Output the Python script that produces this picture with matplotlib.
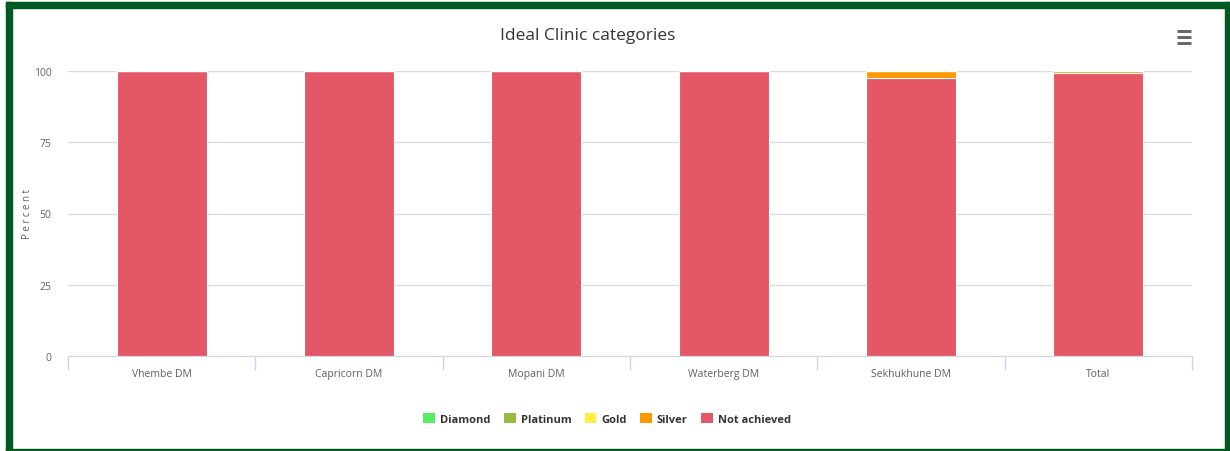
import matplotlib
matplotlib.use("Agg")
import matplotlib.pyplot as plt
from matplotlib.patches import Rectangle
from matplotlib.lines import Line2D
import numpy as np

categories = ["Vhembe DM", "Capricorn DM", "Mopani DM", "Waterberg DM", "Sekhukhune DM", "Total"]
not_achieved = [100, 100, 100, 100, 97.5, 99.4]
silver = [0, 0, 0, 0, 2.5, 0.6]
gold = [0, 0, 0, 0, 0, 0]
platinum = [0, 0, 0, 0, 0, 0]
diamond = [0, 0, 0, 0, 0, 0]
series_names = ["Diamond", "Platinum", "Gold", "Silver", "Not achieved"]
series_colors = ["#55ee66", "#99bb44", "#ffee44", "#ff9900", "#e45766"]
yticks = [0, 25, 50, 75, 100]

W, H = 1230, 452
fig = plt.figure(figsize=(W / 100, H / 100), dpi=100)
fig.patch.set_facecolor("white")

ax = fig.add_axes([68 / W, 1 - 357 / H, (1192 - 68) / W, (357 - 72) / H])
x = np.arange(len(categories))
stack = [not_achieved, silver, gold, platinum, diamond]
stack_colors = series_colors[::-1]
bottom = np.zeros(len(categories))
for vals, col in zip(stack, stack_colors):
    v = np.array(vals, dtype=float)
    ax.bar(x, v, bottom=bottom, width=0.48, color=col, edgecolor="white", linewidth=0.8, zorder=3)
    bottom += v

ax.set_xlim(-0.5, len(categories) - 0.5)
ax.set_ylim(0, 100)
ax.set_yticks(yticks)
ax.set_yticklabels([str(t) for t in yticks], fontsize=7.5, color="#606060", family="Open Sans")
ax.yaxis.grid(True, color="#dcdcdc", linewidth=1, zorder=0)
ax.tick_params(axis="y", length=0, pad=12)
ax.set_xticks(x)
ax.set_xticklabels(categories, fontsize=7.5, color="#606060", family="Open Sans")
ax.tick_params(axis="x", which="major", length=0, pad=9)
ax.set_xticks(np.arange(-0.5, len(categories)), minor=True)
ax.tick_params(axis="x", which="minor", length=10, color="#ccd6eb", width=1)
for s in ["top", "right", "left"]:
    ax.spines[s].set_visible(False)
ax.spines["bottom"].set_color("#ccd6eb")
ax.spines["bottom"].set_zorder(4)
ax.set_facecolor("white")

fig.text(28 / W, 1 - 214 / H, "P e r c e n t", rotation=90, ha="center", va="center",
         fontsize=7, color="#606060", family="Open Sans")
fig.text(588 / W, 1 - 36 / H, "Ideal Clinic categories", ha="center", va="center",
         fontsize=12.5, color="#333333", family="Open Sans")

# legend
handles = [Rectangle((0, 0), 1, 1, facecolor=c, edgecolor="none") for c in series_colors]
leg = fig.legend(handles, series_names, loc="center", bbox_to_anchor=(607 / W, 1 - 420 / H),
                 ncol=5, frameon=False, handlelength=1.05, handleheight=1.05, handletextpad=0.45,
                 columnspacing=1.2, prop={"family": "Open Sans", "weight": "bold", "size": 8})
for t in leg.get_texts():
    t.set_color("#333333")

# hamburger menu icon
for yy in [32, 38, 44]:
    fig.add_artist(Line2D([1177 / W, 1191 / W], [1 - yy / H, 1 - yy / H], color="#666666",
                          linewidth=2.1, solid_capstyle="butt"))

# green frame
green = "#005a20"
fig.add_artist(Rectangle((6 / W, 0), 6 / W, 1 - 3 / H, transform=fig.transFigure, color=green))
fig.add_artist(Rectangle((6 / W, 1 - 9 / H), (1229 - 6) / W, 6 / H, transform=fig.transFigure, color=green))
fig.add_artist(Rectangle((1225 / W, 0), 4 / W, 1 - 3 / H, transform=fig.transFigure, color=green))
fig.add_artist(Rectangle((6 / W, 0), (1229 - 6) / W, 2 / H, transform=fig.transFigure, color=green))

fig.savefig("out.png", dpi=100, facecolor="white")
